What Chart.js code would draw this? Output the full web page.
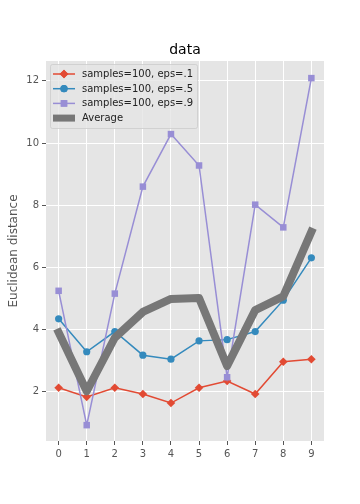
<!DOCTYPE html>
<html><head><meta charset="utf-8">
<script src="https://cdn.jsdelivr.net/npm/chart.js@4/dist/chart.umd.min.js"></script>
<style>html,body{margin:0;padding:0;background:#fff}canvas{display:block}</style>
</head><body>
<canvas id="c" width="360" height="504"></canvas>
<script>
const categories = [0, 1, 2, 3, 4, 5, 6, 7, 8, 9];
const eps1 = [2.13, 1.84, 2.13, 1.93, 1.64, 2.13, 2.35, 1.93, 2.97, 3.05];
const eps5 = [4.35, 3.29, 3.94, 3.18, 3.05, 3.64, 3.68, 3.94, 4.95, 6.31];
const eps9 = [5.25, 0.93, 5.16, 8.60, 10.29, 9.28, 2.47, 8.02, 7.29, 12.09];
const average = [3.91, 2.02, 3.74, 4.57, 4.99, 5.02, 2.83, 4.63, 5.07, 7.15];
const yTicks = [2, 4, 6, 8, 10, 12];
const xTicks = [0, 1, 2, 3, 4, 5, 6, 7, 8, 9];
const seriesNames = ['samples=100, eps=.1', 'samples=100, eps=.5', 'samples=100, eps=.9', 'Average'];

const FONT = "'DejaVu Sans', sans-serif";
const pts = arr => categories.map((c, i) => ({x: c, y: arr[i]}));

const bgPlugin = {
  id: 'bg',
  beforeDraw(chart) {
    const {ctx, chartArea: a} = chart;
    ctx.save();
    ctx.fillStyle = '#e5e5e5';
    ctx.fillRect(a.left, a.top, a.right - a.left, a.bottom - a.top);
    ctx.restore();
  },
  afterDraw(chart) {
    const {ctx, chartArea: a} = chart;
    ctx.save();
    // title
    ctx.fillStyle = '#000';
    ctx.font = '14px ' + FONT;
    ctx.textAlign = 'center';
    ctx.textBaseline = 'alphabetic';
    ctx.fillText('data', (a.left + a.right) / 2, 54);
    // y label
    ctx.save();
    ctx.translate(13.5, (a.top + a.bottom) / 2);
    ctx.rotate(-Math.PI / 2);
    ctx.fillStyle = '#555555';
    ctx.font = '12px ' + FONT;
    ctx.textAlign = 'center';
    ctx.textBaseline = 'middle';
    ctx.fillText('Euclidean distance', 0, 0);
    ctx.restore();
    // legend
    const lx = 50, ly = 64, lw = 147, lh = 64;
    ctx.globalAlpha = 0.8;
    ctx.fillStyle = '#e5e5e5';
    ctx.strokeStyle = '#cccccc';
    ctx.lineWidth = 1;
    ctx.beginPath();
    ctx.roundRect(lx + 0.5, ly + 0.5, lw, lh, 2);
    ctx.fill();
    ctx.stroke();
    ctx.globalAlpha = 1;
    const ds = chart.data.datasets;
    ctx.font = '10px ' + FONT;
    ctx.textAlign = 'left';
    ctx.textBaseline = 'middle';
    for (let i = 0; i < 4; i++) {
      const d = ds.find(x => x.label === seriesNames[i]);
      const y = 74 + i * 14.7;
      ctx.strokeStyle = d.borderColor;
      ctx.lineWidth = i === 3 ? 7 : 1.5;
      ctx.lineCap = 'butt';
      ctx.beginPath();
      ctx.moveTo(53, y);
      ctx.lineTo(75, y);
      ctx.stroke();
      if (i < 3) {
        ctx.fillStyle = d.borderColor;
        Chart.helpers.drawPoint(ctx, {pointStyle: d.pointStyle, radius: d.pointRadius, borderWidth: 0}, 64, y);
        ctx.fill();
      }
      ctx.fillStyle = '#222';
      ctx.fillText(seriesNames[i], 82, y + 0.5);
    }
    ctx.restore();
  }
};

new Chart(document.getElementById('c'), {
  type: 'line',
  data: {
    datasets: [
      {label: seriesNames[3], data: pts(average), borderColor: '#777777', backgroundColor: '#777777',
       borderWidth: 8, pointRadius: 0, borderCapStyle: 'square', borderJoinStyle: 'round', order: 0},
      {label: seriesNames[2], data: pts(eps9), borderColor: '#988ED5', backgroundColor: '#988ED5',
       borderWidth: 1.5, pointStyle: 'rect', pointRadius: 4.6, pointBorderWidth: 0, order: 1},
      {label: seriesNames[1], data: pts(eps5), borderColor: '#348ABD', backgroundColor: '#348ABD',
       borderWidth: 1.5, pointStyle: 'circle', pointRadius: 3.6, pointBorderWidth: 0, order: 2},
      {label: seriesNames[0], data: pts(eps1), borderColor: '#E24A33', backgroundColor: '#E24A33',
       borderWidth: 1.5, pointStyle: 'rectRot', pointRadius: 4.3, pointBorderWidth: 0, order: 3}
    ]
  },
  options: {
    responsive: false,
    animation: false,
    events: [],
    layout: {padding: {left: 0, right: 36, top: 61, bottom: 0}},
    plugins: {legend: {display: false}, title: {display: false}, tooltip: {enabled: false}},
    scales: {
      x: {
        type: 'linear', min: -0.45, max: 9.45,
        afterBuildTicks: s => { s.ticks = xTicks.map(v => ({value: v})); },
        afterFit: s => { s.height = 63; },
        grid: {color: '#ffffff', lineWidth: 1, drawTicks: true, tickLength: 4, tickColor: '#555555', tickWidth: 1},
        border: {display: false},
        ticks: {color: '#555555', font: {family: FONT, size: 10}, padding: 3, maxRotation: 0, autoSkip: false}
      },
      y: {
        type: 'linear', min: 0.42, max: 12.64,
        afterBuildTicks: s => { s.ticks = yTicks.map(v => ({value: v})); },
        afterFit: s => { s.width = 46; },
        grid: {color: '#ffffff', lineWidth: 1, drawTicks: true, tickLength: 4, tickColor: '#555555', tickWidth: 1},
        border: {display: false},
        ticks: {color: '#555555', font: {family: FONT, size: 10}, padding: 3, autoSkip: false}
      }
    }
  },
  plugins: [bgPlugin]
});
</script>
</body></html>
